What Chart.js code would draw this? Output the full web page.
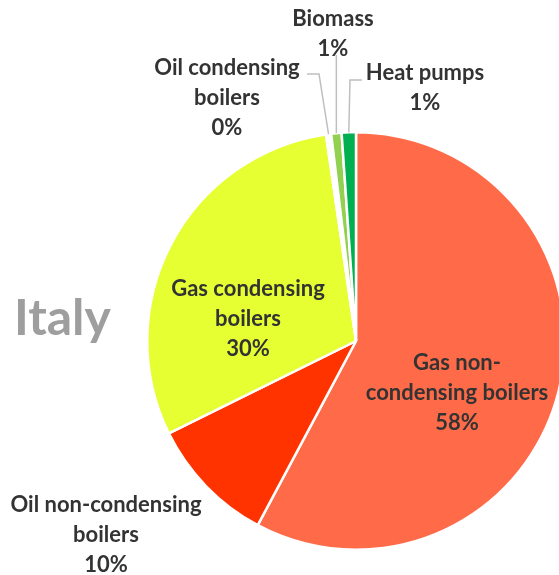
<!DOCTYPE html>
<html>
<head>
<meta charset="utf-8">
<script src="https://cdn.jsdelivr.net/npm/chart.js@4.4.1/dist/chart.umd.min.js"></script>
<style>
  html, body { margin: 0; padding: 0; overflow: hidden; background: #fff; }
  #wrap { width: 559px; height: 575px; overflow: hidden; position: relative; }
</style>
</head>
<body>
<div id="wrap"><canvas id="myChart" width="600" height="575"></canvas></div>
<script>
const categories = [
  ["Gas non-", "condensing boilers"],
  ["Oil non-condensing", "boilers"],
  ["Gas condensing", "boilers"],
  ["Oil condensing", "boilers"],
  ["Biomass"],
  ["Heat pumps"]
];
const shares = [57.8, 9.9, 30.0, 0.4, 0.8, 1.1];
const colors = ["#FF6B48", "#FF3300", "#E6FF33", "#FFFFFF", "#92D050", "#00B050"];

// where each label sits (text centre of first line) and optional leader elbow
const labelSpots = [
  { x: 457, y: 363 },
  { x: 106, y: 505 },
  { x: 248, y: 289 },
  { x: 227, y: 68, elbow: { x: 319, y: 74 }, end: { x: 307, y: 74 } },
  { x: 333, y: 19, elbow: null, end: { x: 336, y: 55 } },
  { x: 425, y: 73, elbow: { x: 350, y: 80 }, end: { x: 362, y: 80 } }
];

const font = "bold 22px Lato";
const lineH = 30;

const labelPlugin = {
  id: "pieLabels",
  afterDatasetsDraw(chart) {
    const c = chart.ctx;
    const meta = chart.getDatasetMeta(0);
    const total = shares.reduce((a, b) => a + b, 0);
    c.save();
    meta.data.forEach((arc, i) => {
      const spot = labelSpots[i];
      if (spot.end) {
        const mid = (arc.startAngle + arc.endAngle) / 2;
        const px = arc.x + Math.cos(mid) * arc.outerRadius;
        const py = arc.y + Math.sin(mid) * arc.outerRadius;
        c.strokeStyle = "#BFBFBF";
        c.lineWidth = 1.5;
        c.beginPath();
        c.moveTo(px, py);
        if (spot.elbow) c.lineTo(spot.elbow.x, spot.elbow.y);
        else c.lineTo(px, spot.end.y);
        c.lineTo(spot.elbow ? spot.end.x : px, spot.end.y);
        c.stroke();
      }
      const lines = categories[i].concat([Math.round(shares[i] / total * 100) + "%"]);
      c.fillStyle = "#333333";
      c.font = font;
      c.textAlign = "center";
      c.textBaseline = "middle";
      lines.forEach((t, k) => c.fillText(t, spot.x, spot.y + k * lineH));
    });
    c.font = "bold 50px Lato";
    c.fillStyle = "#9E9E9E";
    c.textAlign = "left";
    c.textBaseline = "alphabetic";
    c.fillText("Italy", 14, 335);
    c.restore();
  }
};

const ctx = document.getElementById("myChart").getContext("2d");

new Chart(ctx, {
  type: "pie",
  data: {
    labels: categories.map(l => l.join(" ")),
    datasets: [
      {
        data: shares,
        backgroundColor: colors,
        borderColor: "#FFFFFF",
        borderWidth: 2.5,
        hoverOffset: 0
      }
    ]
  },
  options: {
    responsive: false,
    animation: false,
    events: [],
    layout: { padding: { left: 112, right: 0, top: 131, bottom: 24 } },
    plugins: {
      legend: { display: false },
      tooltip: { enabled: false }
    }
  },
  plugins: [labelPlugin]
});
</script>
</body>
</html>
